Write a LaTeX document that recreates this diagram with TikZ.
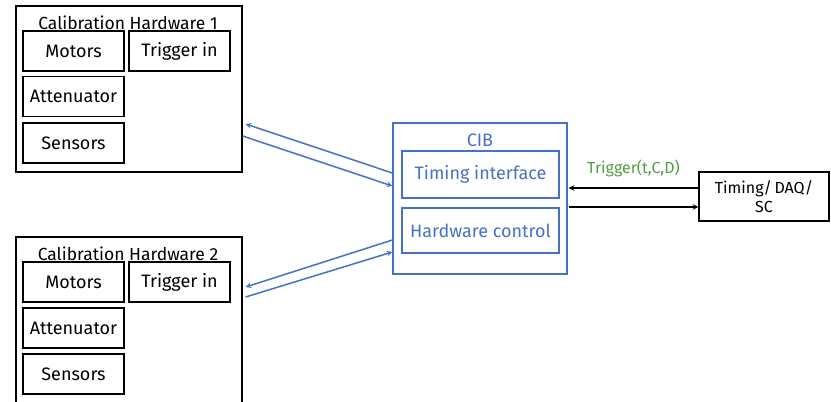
\documentclass[tikz,border=0pt]{standalone}
\usepackage{fontspec}
\setmainfont{Fira Sans}
\usetikzlibrary{arrows}
\definecolor{cibblue}{RGB}{68,114,196}
\definecolor{trgreen}{RGB}{84,158,68}
\tikzstyle{hwbox} = [
    rectangle,
    minimum width=226pt,
    minimum height=166pt,
    line width=1.3pt,
    draw=black
]
\tikzstyle{part} = [
    rectangle,
    minimum width=101pt,
    minimum height=40pt,
    line width=1.3pt,
    draw=black,
    font=\fontsize{18}{21}\selectfont
]
\tikzstyle{cibbox} = [
    rectangle,
    line width=1.3pt,
    draw=cibblue,
    text=cibblue,
    font=\fontsize{18}{21}\selectfont
]
\tikzstyle{title} = [font=\fontsize{17.5}{20}\selectfont]
\tikzstyle{arrow} = [line width=1.5pt,->,>=stealth]
\tikzstyle{bluearrow} = [arrow, draw=cibblue]

\begin{document}
\begin{tikzpicture}[x=1pt,y=-1pt]
\useasboundingbox (0,0) rectangle (831,402);

% calibration hardware 1
\node (hwA) [hwbox] at (129,89) {};
\node (hwAtitle) [title] at (128,23) {Calibration Hardware 1};
\node (motorsA) [part] at (73.5,51) {Motors};
\node (triggerA) [part] at (179.5,51) {Trigger in};
\node (attenA) [part] at (73.5,96.5) {Attenuator};
\node (sensorsA) [part] at (73.5,143) {Sensors};

% calibration hardware 2
\node (hwB) [hwbox, minimum height=173pt] at (129,323.5) {};
\node (hwBtitle) [title] at (128,254) {Calibration Hardware 2};
\node (motorsB) [part] at (73.5,282) {Motors};
\node (triggerB) [part] at (179.5,282) {Trigger in};
\node (attenB) [part] at (73.5,328) {Attenuator};
\node (sensorsB) [part] at (73.5,374) {Sensors};

% CIB
\node (cib) [cibbox, minimum width=174pt, minimum height=151pt] at (480,198.5) {};
\node (cibtitle) [title, text=cibblue, font=\fontsize{18}{21}\selectfont] at (480,140) {CIB};
\node (timing) [cibbox, minimum width=157pt, minimum height=47pt] at (480.5,174.5)
{Timing interface};
\node (hwctrl) [cibbox, minimum width=157pt, minimum height=45pt] at (480.5,230.5)
{Hardware control};

% timing / DAQ / SC
\node (daq) [part, minimum width=130pt, minimum height=49pt, align=center,
    font=\fontsize{16}{19}\selectfont] at (764,196.5) {Timing/\,DAQ/\\SC};

\draw [bluearrow] ([yshift=25.5pt]cib.west) -- ([xshift=3pt,yshift=-35pt]hwA.east);
\draw [bluearrow] ([yshift=-47pt]hwA.east) -- ([yshift=12.5pt]cib.west);

\draw [bluearrow] ([yshift=-41.5pt]cib.west) -- ([xshift=3pt,yshift=36.5pt]hwB.east);
\draw [bluearrow] ([xshift=3pt,yshift=26.5pt]hwB.east) -- ([yshift=-53.5pt]cib.west);

\draw [arrow] ([yshift=8.5pt]daq.west) -- node[above=7pt, text=trgreen,
    font=\fontsize{16}{19}\selectfont]{Trigger(t,C,D)} ([yshift=8.5pt,xshift=1pt]daq.west -| cib.east);
\draw [arrow] ([yshift=-10.5pt,xshift=1pt]daq.west -| cib.east) -- ([yshift=-10.5pt]daq.west);

\end{tikzpicture}
\end{document}
